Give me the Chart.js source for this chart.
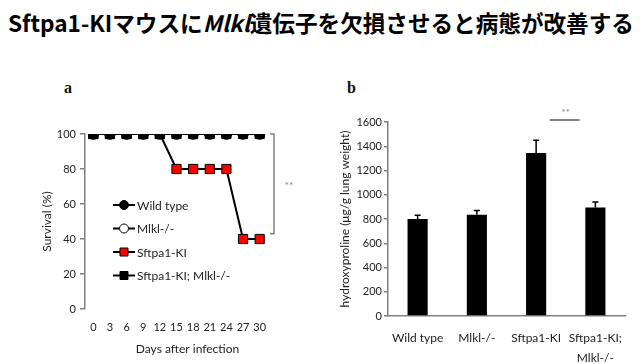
<!DOCTYPE html>
<html>
<head>
<meta charset="utf-8">
<script src="https://cdn.jsdelivr.net/npm/chart.js@4.4.1/dist/chart.umd.min.js"></script>
<style>
  body { margin: 0; background: #fff; }
  #page { position: relative; width: 640px; height: 364px; overflow: hidden; background: #fff; }
  #title { position: absolute; left: 8px; top: 6px; font-family: "Noto Sans CJK JP", sans-serif; font-weight: bold; font-size: 22.6px; color: #000; white-space: nowrap; }
  .panel { position: absolute; font-family: "Liberation Serif", serif; font-weight: bold; font-size: 16px; color: #111; }
  canvas { position: absolute; }
</style>
</head>
<body>
<div id="page">
  <div id="title">Sftpa1-KIマウスに<i>Mlkl</i>遺伝子を欠損させると病態が改善する</div>
  <div class="panel" style="left:64px; top:79px;">a</div>
  <div class="panel" style="left:347px; top:79px;">b</div>
  <canvas id="survivalChart" width="265" height="264" style="left:35px; top:100px;"></canvas>
  <canvas id="hypChart" width="306" height="264" style="left:334px; top:100px;"></canvas>
</div>
<script>
// Survival data (panel a)
const days = ['0', '3', '6', '9', '12', '15', '18', '21', '24', '27', '30'];
const survivalTicks = [0, 20, 40, 60, 80, 100];
const wildTypeSurvival = [100, 100, 100, 100, 100, 100, 100, 100, 100, 100, 100];
const mlklSurvival = [100, 100, 100, 100, 100, 100, 100, 100, 100, 100, 100];
const kiSurvival = [100, 100, 100, 100, 100, 80, 80, 80, 80, 40, 40];
const kiMlklSurvival = [100, 100, 100, 100, 100, 100, 100, 100, 100, 100, 100];

// Hydroxyproline data (panel b)
const groups = ['Wild type', 'Mlkl-/-', 'Sftpa1-KI', ['Sftpa1-KI;', 'Mlkl-/-']];
const hydroxyproline = [800, 835, 1345, 895];
const hydroxyErrors = [30, 35, 105, 45];
const hydroxyTicks = [0, 200, 400, 600, 800, 1000, 1200, 1400, 1600];

const FONT = 'Lato, "Open Sans", sans-serif';
const TEXT = '#222';
const AXIS = '#808080';

// legend, x title and significance bracket for panel a
const survivalExtras = {
  id: 'survivalExtras',
  afterDraw(chart) {
    const ctx = chart.ctx;
    const area = chart.chartArea;
    const y = chart.scales.y;
    ctx.save();
    // legend inside plot
    const lx = area.left + 28;
    let ly = area.top + 71;
    chart.data.datasets.forEach(ds => {
      ctx.strokeStyle = '#000';
      ctx.lineWidth = 2;
      ctx.beginPath();
      ctx.moveTo(lx, ly);
      ctx.lineTo(lx + 22, ly);
      ctx.stroke();
      ctx.fillStyle = ds.pointBackgroundColor;
      ctx.strokeStyle = '#000';
      ctx.lineWidth = 1;
      ctx.beginPath();
      if (ds.pointStyle === 'rect') {
        ctx.rect(lx + 11 - 4, ly - 4, 8, 8);
      } else {
        ctx.arc(lx + 11, ly, 4.5, 0, Math.PI * 2);
      }
      ctx.fill();
      ctx.stroke();
      ctx.fillStyle = TEXT;
      ctx.font = '12px ' + FONT;
      ctx.textBaseline = 'middle';
      ctx.textAlign = 'left';
      ctx.fillText(ds.label, lx + 24, ly + 1);
      ly += 23.5;
    });
    // x axis title
    ctx.fillStyle = TEXT;
    ctx.font = '12px ' + FONT;
    ctx.textAlign = 'center';
    ctx.fillText('Days after infection', (area.left + area.right) / 2 + 11, chart.height - 15);
    // bracket between groups
    const bx = area.right + 6;
    const top = y.getPixelForValue(100);
    const bottom = y.getPixelForValue(43);
    ctx.strokeStyle = AXIS;
    ctx.lineWidth = 1.5;
    ctx.beginPath();
    ctx.moveTo(bx - 4, top);
    ctx.lineTo(bx, top);
    ctx.lineTo(bx, bottom);
    ctx.lineTo(bx - 4, bottom);
    ctx.stroke();
    ctx.fillStyle = AXIS;
    ctx.font = '10px ' + FONT;
    ctx.fillText('**', bx + 15, (top + bottom) / 2 + 2);
    ctx.restore();
  }
};

new Chart(document.getElementById('survivalChart'), {
  type: 'line',
  data: {
    labels: days,
    datasets: [
      { label: 'Wild type', data: wildTypeSurvival, order: 3, pointStyle: 'circle', pointRadius: 4.5,
        pointBackgroundColor: '#000', pointBorderColor: '#000', borderColor: '#000', borderWidth: 2 },
      { label: 'Mlkl-/-', data: mlklSurvival, order: 2, pointStyle: 'circle', pointRadius: 4.5,
        pointBackgroundColor: '#fff', pointBorderColor: '#000', borderColor: '#000', borderWidth: 2 },
      { label: 'Sftpa1-KI', data: kiSurvival, order: 1, pointStyle: 'rect', pointRadius: 6.5,
        pointBackgroundColor: '#ff0000', pointBorderColor: '#000', pointBorderWidth: 1, borderColor: '#000', borderWidth: 2 },
      { label: 'Sftpa1-KI; Mlkl-/-', data: kiMlklSurvival, order: 0, pointStyle: 'rect', pointRadius: 6.5,
        pointBackgroundColor: '#000', pointBorderColor: '#000', pointBorderWidth: 1, borderColor: '#000', borderWidth: 2 }
    ]
  },
  options: {
    responsive: false,
    animation: false,
    devicePixelRatio: 1,
    layout: { padding: { top: 34, right: 32, left: 0, bottom: 0 } },
    plugins: { legend: { display: false }, tooltip: { enabled: false } },
    scales: {
      x: {
        offset: true,
        grid: { display: false },
        border: { display: false },
        ticks: { color: TEXT, font: { family: FONT, size: 11 }, padding: 4, maxRotation: 0, autoSkip: false },
        afterFit: s => { s.height = 55; }
      },
      y: {
        min: 0, max: 100,
        afterBuildTicks: s => { s.ticks = survivalTicks.map(v => ({ value: v })); },
        grid: { drawOnChartArea: false, drawTicks: true, tickLength: 5, color: AXIS, lineWidth: 1.5 },
        border: { display: true, color: AXIS, width: 1.5 },
        ticks: { color: TEXT, font: { family: FONT, size: 11 }, padding: 4 },
        title: { display: true, text: 'Survival (%)', color: TEXT, font: { family: FONT, size: 12 }, padding: { top: 5, bottom: 0 } },
        afterFit: s => { s.width = 50; }
      }
    }
  },
  plugins: [survivalExtras]
});

// error bars + significance line for panel b
const barExtras = {
  id: 'barExtras',
  afterDatasetsDraw(chart) {
    const ctx = chart.ctx;
    const y = chart.scales.y;
    const meta = chart.getDatasetMeta(0);
    ctx.save();
    ctx.strokeStyle = '#000';
    ctx.lineWidth = 1.5;
    meta.data.forEach((bar, i) => {
      const yTop = y.getPixelForValue(hydroxyproline[i] + hydroxyErrors[i]);
      ctx.beginPath();
      ctx.moveTo(bar.x, bar.y);
      ctx.lineTo(bar.x, yTop);
      ctx.moveTo(bar.x - 3, yTop);
      ctx.lineTo(bar.x + 3, yTop);
      ctx.stroke();
    });
    // significance between Sftpa1-KI and Sftpa1-KI; Mlkl-/-
    const mid = (meta.data[2].x + meta.data[3].x) / 2;
    const ly = y.getPixelForValue(1600) - 2;
    ctx.strokeStyle = AXIS;
    ctx.lineWidth = 2;
    ctx.beginPath();
    ctx.moveTo(mid - 16, ly);
    ctx.lineTo(mid + 14, ly);
    ctx.stroke();
    ctx.fillStyle = AXIS;
    ctx.font = '10px ' + FONT;
    ctx.textAlign = 'center';
    ctx.textBaseline = 'middle';
    ctx.fillText('**', mid, ly - 7);
    ctx.restore();
  }
};

new Chart(document.getElementById('hypChart'), {
  type: 'bar',
  data: {
    labels: groups,
    datasets: [{
      data: hydroxyproline,
      backgroundColor: '#000',
      borderWidth: 0,
      categoryPercentage: 1,
      barPercentage: 0.34
    }]
  },
  options: {
    responsive: false,
    animation: false,
    devicePixelRatio: 1,
    layout: { padding: { top: 22, right: 15, left: 0, bottom: 0 } },
    plugins: { legend: { display: false }, tooltip: { enabled: false } },
    scales: {
      x: {
        grid: { display: false },
        border: { display: true, color: AXIS, width: 1.5 },
        ticks: { color: TEXT, font: { family: FONT, size: 12, lineHeight: 1.6 }, padding: 5, maxRotation: 0, autoSkip: false },
        afterFit: s => { s.height = 48; }
      },
      y: {
        min: 0, max: 1600,
        afterBuildTicks: s => { s.ticks = hydroxyTicks.map(v => ({ value: v })); },
        grid: { drawOnChartArea: false, drawTicks: true, tickLength: 4, color: AXIS, lineWidth: 1.5 },
        border: { display: true, color: AXIS, width: 1.5 },
        ticks: { color: TEXT, font: { family: FONT, size: 11 }, padding: 2, callback: v => String(v) },
        title: { display: true, text: 'hydroxyproline (μg/g lung weight)', color: TEXT, font: { family: FONT, size: 12 }, padding: { top: 4, bottom: 0 } },
        afterFit: s => { s.width = 54; }
      }
    }
  },
  plugins: [barExtras]
});
</script>
</body>
</html>
